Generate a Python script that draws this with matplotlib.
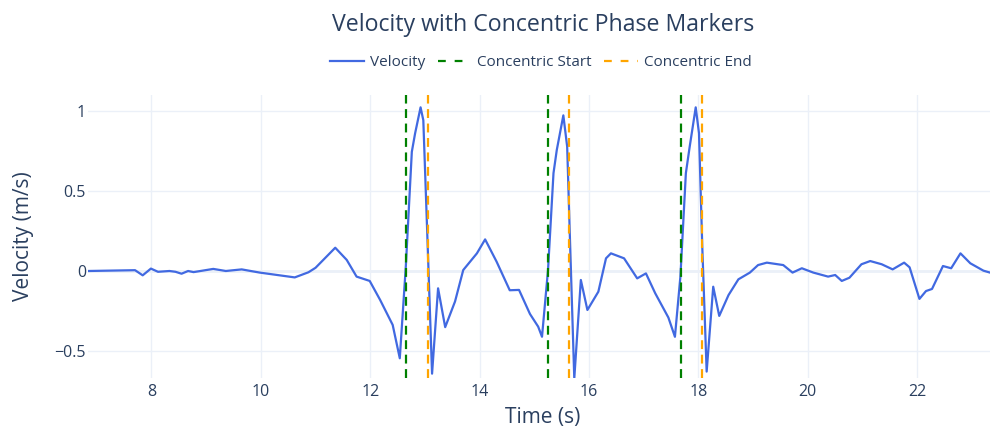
import matplotlib
matplotlib.use("Agg")
import matplotlib.pyplot as plt
from matplotlib.lines import Line2D

time_s = [6.84, 7.70, 7.84, 7.99, 8.12, 8.33, 8.44, 8.55, 8.67, 8.77, 9.13, 9.36, 9.65, 9.98,
          10.62, 10.87, 11.00, 11.36, 11.57, 11.75, 11.99, 12.18, 12.41, 12.54, 12.65, 12.76,
          12.82, 12.92, 12.97, 13.04, 13.13, 13.24, 13.37, 13.55, 13.70, 13.95, 14.10, 14.31,
          14.55, 14.72, 14.92, 15.07, 15.14, 15.25, 15.35, 15.41, 15.53, 15.60, 15.65, 15.73,
          15.85, 15.97, 16.17, 16.31, 16.40, 16.64, 16.88, 17.04, 17.21, 17.45, 17.57, 17.67,
          17.77, 17.84, 17.95, 18.01, 18.07, 18.15, 18.27, 18.38, 18.55, 18.73, 18.94, 19.09,
          19.25, 19.55, 19.72, 19.89, 20.10, 20.37, 20.50, 20.62, 20.76, 20.98, 21.14, 21.35,
          21.55, 21.76, 21.86, 22.04, 22.16, 22.27, 22.47, 22.62, 22.79, 22.97, 23.21, 23.33]
velocity = [0.0, 0.005, -0.027, 0.015, -0.005, 0.0, -0.005, -0.017, 0.0, -0.007, 0.013, 0.0,
            0.01, -0.01, -0.04, -0.008, 0.02, 0.145, 0.069, -0.035, -0.062, -0.18, -0.336,
            -0.544, 0.027, 0.743, 0.858, 1.02, 0.94, 0.255, -0.64, -0.108, -0.35, -0.19, 0.006,
            0.11, 0.197, 0.058, -0.12, -0.118, -0.268, -0.347, -0.41, 0.006, 0.61, 0.754, 0.97,
            0.775, 0.21, -0.67, -0.056, -0.243, -0.129, 0.079, 0.11, 0.079, -0.046, -0.015,
            -0.139, -0.29, -0.41, -0.035, 0.61, 0.775, 1.02, 0.858, 0.15, -0.627, -0.098, -0.28,
            -0.15, -0.052, -0.01, 0.037, 0.052, 0.037, -0.01, 0.017, -0.01, -0.035, -0.025,
            -0.062, -0.042, 0.042, 0.062, 0.042, 0.01, 0.052, 0.023, -0.174, -0.125, -0.112,
            0.031, 0.017, 0.11, 0.048, 0.002, -0.01]
concentric_start = [12.65, 15.25, 17.68]
concentric_end = [13.05, 15.63, 18.06]

xticks = [8, 10, 12, 14, 16, 18, 20, 22]
yticks = [-0.5, 0, 0.5, 1]
ytick_labels = ["\u22120.5", "0", "0.5", "1"]

plt.rcParams['font.family'] = ['Open Sans', 'DejaVu Sans']
text_color = '#2a3f5f'
grid_color = '#EBF0F8'
vel_color = '#4169E1'

fig = plt.figure(figsize=(9.9, 4.32), dpi=100)
ax = fig.add_axes([88/990, 54/432, 1 - 88/990, (378-95)/432])

ax.plot(time_s, velocity, color=vel_color, lw=1.6, zorder=3, solid_joinstyle='round')
for t in concentric_start:
    ax.axvline(t, color='green', lw=1.6, ls=(0, (4, 2.5)), zorder=4)
for t in concentric_end:
    ax.axvline(t, color='orange', lw=1.6, ls=(0, (4, 2.5)), zorder=4)

ax.set_xlim(6.84, 23.33)
ax.set_ylim(-0.667, 1.097)
ax.set_xticks(xticks)
ax.set_xticklabels([str(v) for v in xticks])
ax.set_yticks(yticks)
ax.set_yticklabels(ytick_labels)
ax.grid(True, color=grid_color, lw=1)
ax.axhline(0, color=grid_color, lw=2, zorder=1)
ax.set_axisbelow(True)
for s in ax.spines.values():
    s.set_visible(False)
ax.tick_params(length=0, labelsize=11.5, colors=text_color)
ax.tick_params(axis='y', pad=1.5)
ax.tick_params(axis='x', pad=4)
ax.set_xlabel('Time (s)', fontsize=15, color=text_color, va='center')
ax.set_ylabel('Velocity (m/s)', fontsize=15, color=text_color, va='center')
ax.xaxis.set_label_coords((543 - 88) / 902, (378 - 418) / 283)
ax.yaxis.set_label_coords((23 - 88) / 902, 0.5)

fig.text(543/990, 1 - 25/432, 'Velocity with Concentric Phase Markers', ha='center', va='center',
         fontsize=16.7, color=text_color)

handles = [Line2D([], [], color=vel_color, lw=1.6),
           Line2D([], [], color='green', lw=1.6, ls=(0, (3.5, 4))),
           Line2D([], [], color='orange', lw=1.6, ls=(0, (3.5, 4)))]
fig.legend(handles, ['Velocity', 'Concentric Start', 'Concentric End'], loc='center',
           bbox_to_anchor=(541/990, 1 - 63/432), ncol=3, frameon=False, fontsize=11,
           labelcolor=text_color, handlelength=2.2, handletextpad=0.4, columnspacing=0.8)

fig.savefig('out.png', dpi=100)
